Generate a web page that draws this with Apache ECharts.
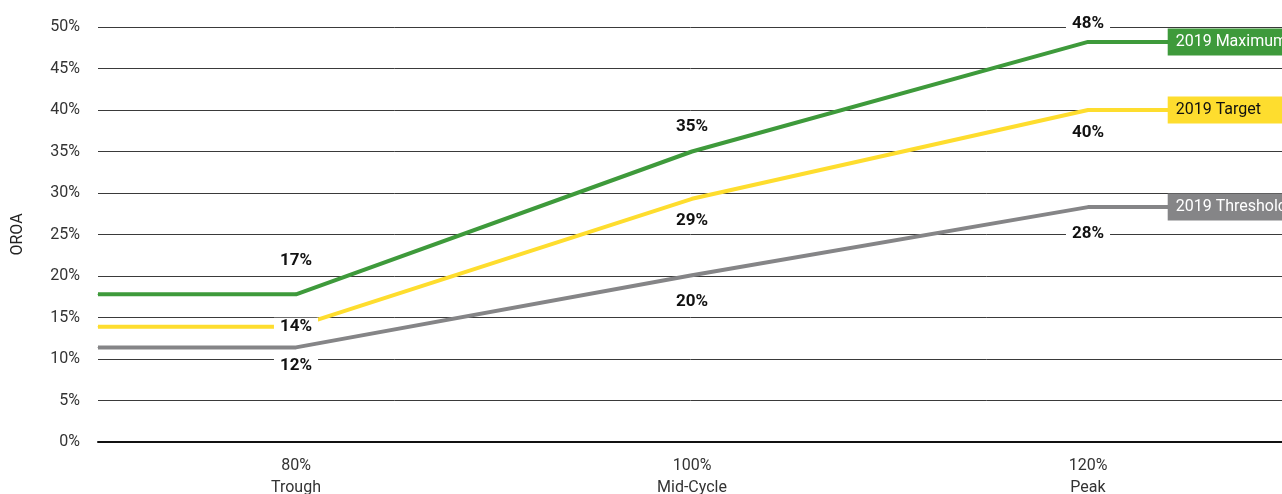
<!DOCTYPE html>
<html>
<head>
<meta charset="utf-8">
<script src="https://cdn.jsdelivr.net/npm/echarts@6/dist/echarts.min.js"></script>
<style>
html,body{margin:0;padding:0;background:#fff;}
#chart{width:1282px;height:494px;}
</style>
</head>
<body>
<div id="chart"></div>
<script>
// ---- data ----
const xValues = [80, 100, 120];
const xCategories = ['Trough', 'Mid-Cycle', 'Peak'];
const seriesNames = ['2019 Maximum', '2019 Target', '2019 Threshold'];
const maximum = [17.8, 35.0, 48.2];
const target = [13.9, 29.3, 40.0];
const threshold = [11.4, 20.1, 28.3];
const maximumLabels = ['17%', '35%', '48%'];
const targetLabels = ['14%', '29%', '40%'];
const thresholdLabels = ['12%', '20%', '28%'];
const yTicks = [0, 5, 10, 15, 20, 25, 30, 35, 40, 45, 50];

// ---- style ----
const X_MIN = 70, X_MAX = 130, TAG_X = 124;
const colors = ['#3e9a3b', '#fedd2e', '#858587'];
const tagText = ['#ffffff', '#111111', '#ffffff'];
const labelOffsets = [[-34, -25, -18], [0, 22, 23], [18, 27, 27]];
const FONT = 'Roboto, "DejaVu Sans Condensed", sans-serif';

function buildSeries(idx, values, labels) {
  const data = [];
  data.push({ value: [X_MIN, values[0]], label: { show: false } });
  values.forEach((v, i) => {
    data.push({
      value: [xValues[i], v],
      label: {
        show: true,
        formatter: labels[i],
        position: 'inside',
        offset: [0, labelOffsets[idx][i]],
        fontFamily: FONT,
        fontWeight: 'bold',
        fontSize: 17,
        color: '#111',
        backgroundColor: '#fff',
        padding: [1, 6, 0, 6]
      }
    });
  });
  data.push({
    value: [TAG_X, values[values.length - 1]],
    label: {
      show: true,
      formatter: seriesNames[idx],
      position: 'right',
      distance: 0,
      fontFamily: FONT,
      fontSize: 16,
      lineHeight: 18,
      width: 130,
      color: tagText[idx],
      backgroundColor: colors[idx],
      padding: [5, 8, 4, 8]
    }
  });
  data.push({ value: [X_MAX, values[values.length - 1]], label: { show: false } });
  return {
    name: seriesNames[idx],
    type: 'line',
    data: data,
    symbol: 'circle',
    symbolSize: 1,
    showSymbol: true,
    itemStyle: { color: colors[idx] },
    lineStyle: { color: colors[idx], width: 4 },
    emphasis: { disabled: true },
    silent: true,
    animation: false,
    z: 3 - idx
  };
}

const chart = echarts.init(document.getElementById('chart'), null, { renderer: 'canvas' });
chart.setOption({
  animation: false,
  grid: { left: 98, right: -4, top: 27, bottom: 52, containLabel: false, outerBoundsMode: 'none' },
  xAxis: {
    type: 'value',
    min: X_MIN,
    max: X_MAX,
    interval: 10,
    splitLine: { show: false },
    axisTick: { show: false },
    axisLine: { show: true, lineStyle: { color: '#111', width: 2 } },
    axisLabel: {
      margin: 13,
      fontFamily: FONT,
      fontSize: 16,
      lineHeight: 22,
      color: '#333',
      formatter: function (v) {
        const i = xValues.indexOf(v);
        return i >= 0 ? v + '%\n' + xCategories[i] : '';
      }
    }
  },
  yAxis: {
    type: 'value',
    min: yTicks[0],
    max: yTicks[yTicks.length - 1],
    interval: 5,
    name: 'OROA',
    nameLocation: 'middle',
    nameGap: 72,
    nameTextStyle: { fontFamily: FONT, fontSize: 16, color: '#222' },
    axisLine: { show: false },
    axisTick: { show: false },
    axisLabel: {
      margin: 18,
      fontFamily: FONT,
      fontSize: 16,
      color: '#333',
      formatter: '{value}%'
    },
    splitLine: { show: true, lineStyle: { color: '#3a3a3a', width: 1 } }
  },
  series: [
    buildSeries(0, maximum, maximumLabels),
    buildSeries(1, target, targetLabels),
    buildSeries(2, threshold, thresholdLabels)
  ]
});
</script>
</body>
</html>
